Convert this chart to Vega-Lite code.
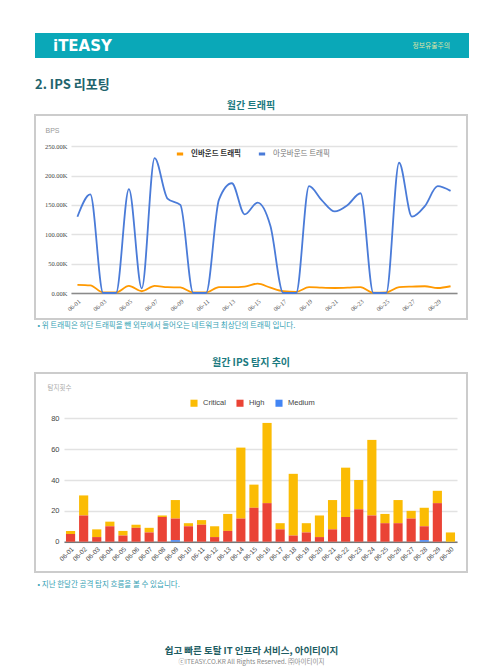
{
  "$schema": "https://vega.github.io/schema/vega-lite/v6.json",
  "background": "white",
  "padding": {"left": 34, "top": 33, "right": 5, "bottom": 5},
  "config": {
    "view": {"stroke": null},
    "font": "Noto Sans CJK KR"
  },
  "title": {
    "text": "쉽고 빠른 토탈 IT 인프라 서비스, 아이티이지",
    "subtitle": "ⓒITEASY.CO.KR All Rights Reserved. ㈜아이티이지",
    "orient": "bottom",
    "anchor": "middle",
    "offset": 57,
    "fontSize": 9.5,
    "fontWeight": "bold",
    "color": "#1e5d63",
    "font": "Noto Sans CJK KR",
    "subtitleFont": "Noto Sans CJK KR",
    "subtitleFontSize": 6.5,
    "subtitleColor": "#888888",
    "subtitlePadding": 3
  },
  "resolve": {"scale": {"color": "independent", "x": "independent", "y": "independent"}, "legend": {"color": "independent"}},
  "spacing": 8,
  "vconcat": [
    {
      "width": 434,
      "height": 25,
      "view": {"fill": "#0aa8b8", "stroke": null},
      "title": {
        "text": "2. IPS 리포팅",
        "orient": "bottom",
        "anchor": "start",
        "offset": 21,
        "fontSize": 13,
        "fontWeight": "bold",
        "color": "#22636c",
        "font": "Noto Sans CJK KR"
      },
      "data": {"values": [{"label": "iTEASY"}, {"label": "정보유출주의"}]},
      "encoding": {
        "x": {
          "field": "label",
          "type": "nominal",
          "scale": {"type": "point", "domain": ["iTEASY", "정보유출주의"], "range": [18, 415], "padding": 0},
          "axis": null
        }
      },
      "layer": [
        {
          "transform": [{"filter": "datum.label == 'iTEASY'"}],
          "mark": {"type": "text", "align": "left", "baseline": "middle", "fontSize": 15, "fontWeight": "bold", "color": "white", "font": "DejaVu Sans"},
          "encoding": {"text": {"field": "label"}}
        },
        {
          "transform": [{"filter": "datum.label != 'iTEASY'"}],
          "mark": {"type": "text", "align": "right", "baseline": "middle", "fontSize": 6.8, "color": "#dfe3a6", "font": "Noto Sans CJK KR"},
          "encoding": {"text": {"field": "label"}}
        }
      ]
    },
    {
      "width": 432,
      "height": 204,
      "view": {"stroke": "#cccccc", "strokeWidth": 2},
      "title": {"text": "월간 트래픽", "fontSize": 10, "fontWeight": "bold", "color": "#1b7a80", "anchor": "middle", "offset": 4, "font": "Noto Sans CJK KR"},
      "data": {
        "values": [
          {"day": "06-01", "series": "인바운드 트래픽", "value": 14000}, {"day": "06-01", "series": "아웃바운드 트래픽", "value": 130000},
          {"day": "06-02", "series": "인바운드 트래픽", "value": 13000}, {"day": "06-02", "series": "아웃바운드 트래픽", "value": 168000},
          {"day": "06-03", "series": "인바운드 트래픽", "value": 1000}, {"day": "06-03", "series": "아웃바운드 트래픽", "value": 0},
          {"day": "06-04", "series": "인바운드 트래픽", "value": 1000}, {"day": "06-04", "series": "아웃바운드 트래픽", "value": 0},
          {"day": "06-05", "series": "인바운드 트래픽", "value": 12000}, {"day": "06-05", "series": "아웃바운드 트래픽", "value": 177000},
          {"day": "06-06", "series": "인바운드 트래픽", "value": 3000}, {"day": "06-06", "series": "아웃바운드 트래픽", "value": 8000},
          {"day": "06-07", "series": "인바운드 트래픽", "value": 12000}, {"day": "06-07", "series": "아웃바운드 트래픽", "value": 230000},
          {"day": "06-08", "series": "인바운드 트래픽", "value": 10000}, {"day": "06-08", "series": "아웃바운드 트래픽", "value": 161000},
          {"day": "06-09", "series": "인바운드 트래픽", "value": 9500}, {"day": "06-09", "series": "아웃바운드 트래픽", "value": 150000},
          {"day": "06-10", "series": "인바운드 트래픽", "value": 1000}, {"day": "06-10", "series": "아웃바운드 트래픽", "value": 0},
          {"day": "06-11", "series": "인바운드 트래픽", "value": 1000}, {"day": "06-11", "series": "아웃바운드 트래픽", "value": 0},
          {"day": "06-12", "series": "인바운드 트래픽", "value": 10000}, {"day": "06-12", "series": "아웃바운드 트래픽", "value": 159000},
          {"day": "06-13", "series": "인바운드 트래픽", "value": 10000}, {"day": "06-13", "series": "아웃바운드 트래픽", "value": 187000},
          {"day": "06-14", "series": "인바운드 트래픽", "value": 11000}, {"day": "06-14", "series": "아웃바운드 트래픽", "value": 134000},
          {"day": "06-15", "series": "인바운드 트래픽", "value": 16000}, {"day": "06-15", "series": "아웃바운드 트래픽", "value": 154000},
          {"day": "06-16", "series": "인바운드 트래픽", "value": 9000}, {"day": "06-16", "series": "아웃바운드 트래픽", "value": 114000},
          {"day": "06-17", "series": "인바운드 트래픽", "value": 3000}, {"day": "06-17", "series": "아웃바운드 트래픽", "value": 0},
          {"day": "06-18", "series": "인바운드 트래픽", "value": 2000}, {"day": "06-18", "series": "아웃바운드 트래픽", "value": 0},
          {"day": "06-19", "series": "인바운드 트래픽", "value": 10000}, {"day": "06-19", "series": "아웃바운드 트래픽", "value": 182000},
          {"day": "06-20", "series": "인바운드 트래픽", "value": 9000}, {"day": "06-20", "series": "아웃바운드 트래픽", "value": 158000},
          {"day": "06-21", "series": "인바운드 트래픽", "value": 8500}, {"day": "06-21", "series": "아웃바운드 트래픽", "value": 139000},
          {"day": "06-22", "series": "인바운드 트래픽", "value": 9000}, {"day": "06-22", "series": "아웃바운드 트래픽", "value": 150000},
          {"day": "06-23", "series": "인바운드 트래픽", "value": 10000}, {"day": "06-23", "series": "아웃바운드 트래픽", "value": 170000},
          {"day": "06-24", "series": "인바운드 트래픽", "value": 500}, {"day": "06-24", "series": "아웃바운드 트래픽", "value": 0},
          {"day": "06-25", "series": "인바운드 트래픽", "value": 1000}, {"day": "06-25", "series": "아웃바운드 트래픽", "value": 0},
          {"day": "06-26", "series": "인바운드 트래픽", "value": 10000}, {"day": "06-26", "series": "아웃바운드 트래픽", "value": 222000},
          {"day": "06-27", "series": "인바운드 트래픽", "value": 11000}, {"day": "06-27", "series": "아웃바운드 트래픽", "value": 130000},
          {"day": "06-28", "series": "인바운드 트래픽", "value": 11500}, {"day": "06-28", "series": "아웃바운드 트래픽", "value": 148000},
          {"day": "06-29", "series": "인바운드 트래픽", "value": 8500}, {"day": "06-29", "series": "아웃바운드 트래픽", "value": 182000},
          {"day": "06-30", "series": "인바운드 트래픽", "value": 11500}, {"day": "06-30", "series": "아웃바운드 트래픽", "value": 174000}
        ]
      },
      "mark": {"type": "line", "interpolate": "monotone", "strokeWidth": 1.8},
      "encoding": {
        "x": {
          "field": "day",
          "type": "ordinal",
          "scale": {"type": "point", "range": [36, 422], "padding": 0.5},
          "axis": {
            "orient": "bottom",
            "offset": -26,
            "values": ["06-01", "06-03", "06-05", "06-07", "06-09", "06-11", "06-13", "06-15", "06-17", "06-19", "06-21", "06-23", "06-25", "06-27", "06-29"],
            "labelAngle": -40,
            "labelFontSize": 6.3,
            "labelColor": "#555555",
            "labelFont": "Liberation Sans Narrow",
            "labelOverlap": false,
            "ticks": false,
            "labelPadding": 5,
            "domain": true,
            "domainColor": "#8a8a8a",
            "domainWidth": 1.5,
            "grid": false,
            "title": "• 위 트래픽은 하단 트래픽을 뺀 외부에서 들어오는 네트워크 최상단의 트래픽 입니다.",
            "titleX": 2,
            "titleY": 32,
            "titleAlign": "left",
            "titleAnchor": "start",
            "titleBaseline": "middle",
            "titleFontSize": 7.5,
            "titleFontWeight": "normal",
            "titleColor": "#35a2b4",
            "titleFont": "Noto Sans CJK KR"
          }
        },
        "y": {
          "field": "value",
          "type": "quantitative",
          "scale": {"domain": [0, 250000], "range": [178, 31.3], "nice": false},
          "axis": {
            "orient": "left",
            "offset": -36,
            "values": [0, 50000, 100000, 150000, 200000, 250000],
            "labelExpr": "format(datum.value / 1000, '.2f') + 'K'",
            "labelFontSize": 6.5,
            "labelColor": "#444444",
            "labelFont": "Liberation Sans Narrow",
            "ticks": false,
            "domain": false,
            "grid": true,
            "gridColor": "#e2e2e2",
            "gridWidth": 1.5,
            "labelPadding": 4,
            "title": "BPS",
            "titleAngle": 0,
            "titleX": -26,
            "titleY": 15,
            "titleAlign": "left",
            "titleBaseline": "middle",
            "titleFontSize": 7,
            "titleFontWeight": "normal",
            "titleColor": "#999999",
            "titleFont": "Liberation Sans"
          }
        },
        "color": {
          "field": "series",
          "type": "nominal",
          "scale": {"domain": ["인바운드 트래픽", "아웃바운드 트래픽"], "range": ["#ff9900", "#4a7bd8"]},
          "legend": {
            "orient": "none",
            "legendX": 140,
            "legendY": 34,
            "direction": "horizontal",
            "title": null,
            "symbolType": "stroke",
            "symbolStrokeWidth": 3,
            "symbolSize": 40,
            "labelFontSize": 7.5,
            "labelFont": "Noto Sans CJK KR",
            "labelColor": "#777777",
            "columnPadding": 10,
            "labelOffset": 6,
            "encode": {
              "labels": {
                "update": {
                  "fontWeight": {"signal": "datum.label == '인바운드 트래픽' ? 'bold' : 'normal'"},
                  "fill": {"signal": "datum.label == '인바운드 트래픽' ? '#333333' : '#777777'"}
                }
              }
            }
          }
        }
      }
    },
    {
      "width": 432,
      "height": 10,
      "data": {"values": [{}]},
      "mark": {"type": "text", "text": ""},
      "encoding": {}
    },
    {
      "width": 432,
      "height": 199,
      "view": {"stroke": "#cccccc", "strokeWidth": 2},
      "title": {"text": "월간 IPS 탐지 추이", "fontSize": 10, "fontWeight": "bold", "color": "#1b7a80", "anchor": "middle", "offset": 5, "font": "Noto Sans CJK KR"},
      "data": {
        "values": [
          {"day": "06-01", "severity": "Critical", "count": 2}, {"day": "06-01", "severity": "High", "count": 5},
          {"day": "06-02", "severity": "Critical", "count": 13}, {"day": "06-02", "severity": "High", "count": 17},
          {"day": "06-03", "severity": "Critical", "count": 5}, {"day": "06-03", "severity": "High", "count": 3},
          {"day": "06-04", "severity": "Critical", "count": 3}, {"day": "06-04", "severity": "High", "count": 10},
          {"day": "06-05", "severity": "Critical", "count": 3}, {"day": "06-05", "severity": "High", "count": 4},
          {"day": "06-06", "severity": "Critical", "count": 2}, {"day": "06-06", "severity": "High", "count": 9},
          {"day": "06-07", "severity": "Critical", "count": 3}, {"day": "06-07", "severity": "High", "count": 6},
          {"day": "06-08", "severity": "Critical", "count": 1}, {"day": "06-08", "severity": "High", "count": 16},
          {"day": "06-09", "severity": "Critical", "count": 12}, {"day": "06-09", "severity": "High", "count": 14}, {"day": "06-09", "severity": "Medium", "count": 1},
          {"day": "06-10", "severity": "Critical", "count": 2}, {"day": "06-10", "severity": "High", "count": 10},
          {"day": "06-11", "severity": "Critical", "count": 3}, {"day": "06-11", "severity": "High", "count": 11},
          {"day": "06-12", "severity": "Critical", "count": 7}, {"day": "06-12", "severity": "High", "count": 3},
          {"day": "06-13", "severity": "Critical", "count": 11}, {"day": "06-13", "severity": "High", "count": 7},
          {"day": "06-14", "severity": "Critical", "count": 46}, {"day": "06-14", "severity": "High", "count": 15},
          {"day": "06-15", "severity": "Critical", "count": 15}, {"day": "06-15", "severity": "High", "count": 22},
          {"day": "06-16", "severity": "Critical", "count": 52}, {"day": "06-16", "severity": "High", "count": 25},
          {"day": "06-17", "severity": "Critical", "count": 4}, {"day": "06-17", "severity": "High", "count": 8},
          {"day": "06-18", "severity": "Critical", "count": 40}, {"day": "06-18", "severity": "High", "count": 4},
          {"day": "06-19", "severity": "Critical", "count": 6}, {"day": "06-19", "severity": "High", "count": 6},
          {"day": "06-20", "severity": "Critical", "count": 14}, {"day": "06-20", "severity": "High", "count": 3},
          {"day": "06-21", "severity": "Critical", "count": 19}, {"day": "06-21", "severity": "High", "count": 8},
          {"day": "06-22", "severity": "Critical", "count": 32}, {"day": "06-22", "severity": "High", "count": 16},
          {"day": "06-23", "severity": "Critical", "count": 19}, {"day": "06-23", "severity": "High", "count": 21},
          {"day": "06-24", "severity": "Critical", "count": 49}, {"day": "06-24", "severity": "High", "count": 17},
          {"day": "06-25", "severity": "Critical", "count": 6}, {"day": "06-25", "severity": "High", "count": 12},
          {"day": "06-26", "severity": "Critical", "count": 15}, {"day": "06-26", "severity": "High", "count": 12},
          {"day": "06-27", "severity": "Critical", "count": 5}, {"day": "06-27", "severity": "High", "count": 15},
          {"day": "06-28", "severity": "Critical", "count": 12}, {"day": "06-28", "severity": "High", "count": 9}, {"day": "06-28", "severity": "Medium", "count": 1},
          {"day": "06-29", "severity": "Critical", "count": 8}, {"day": "06-29", "severity": "High", "count": 25},
          {"day": "06-30", "severity": "Critical", "count": 6}
        ]
      },
      "mark": {"type": "bar"},
      "encoding": {
        "x": {
          "field": "day",
          "type": "ordinal",
          "scale": {"type": "band", "range": [29, 422], "paddingInner": 0.3, "paddingOuter": 0.15},
          "axis": {
            "orient": "bottom",
            "offset": -30.3,
            "labelAngle": -45,
            "labelFontSize": 6.5,
            "labelColor": "#444444",
            "labelFont": "Liberation Sans",
            "labelOverlap": false,
            "ticks": false,
            "labelPadding": 4,
            "domain": true,
            "domainColor": "#777777",
            "domainWidth": 1.5,
            "grid": false,
            "title": "• 지난 한달간 공격 탐지 흐름을 볼 수 있습니다.",
            "titleX": 2,
            "titleY": 42.8,
            "titleAlign": "left",
            "titleAnchor": "start",
            "titleBaseline": "middle",
            "titleFontSize": 7.5,
            "titleFontWeight": "normal",
            "titleColor": "#35a2b4",
            "titleFont": "Noto Sans CJK KR"
          }
        },
        "y": {
          "field": "count",
          "type": "quantitative",
          "stack": "zero",
          "scale": {"domain": [0, 80], "range": [168.7, 45.3], "nice": false},
          "axis": {
            "orient": "left",
            "offset": -29,
            "values": [0, 20, 40, 60, 80],
            "labelFontSize": 7.5,
            "labelColor": "#444444",
            "labelFont": "Liberation Sans",
            "ticks": false,
            "domain": false,
            "grid": true,
            "gridColor": "#e2e2e2",
            "gridWidth": 1.5,
            "labelPadding": 5,
            "title": "탐지횟수",
            "titleAngle": 0,
            "titleX": -17,
            "titleY": 14,
            "titleAlign": "left",
            "titleBaseline": "middle",
            "titleFontSize": 6.5,
            "titleFontWeight": "normal",
            "titleColor": "#aaaaaa",
            "titleFont": "Noto Sans CJK KR"
          }
        },
        "color": {
          "field": "severity",
          "type": "nominal",
          "scale": {"domain": ["Critical", "High", "Medium"], "range": ["#fbbc04", "#ea4335", "#4285f4"]},
          "legend": {
            "orient": "none",
            "legendX": 155,
            "legendY": 26,
            "direction": "horizontal",
            "title": null,
            "symbolType": "square",
            "symbolSize": 50,
            "symbolStrokeWidth": 0,
            "labelFontSize": 7.5,
            "labelFont": "Liberation Sans",
            "labelColor": "#444444",
            "columnPadding": 10,
            "labelOffset": 5
          }
        },
        "order": {"field": "severity", "sort": "descending"}
      }
    }
  ]
}
